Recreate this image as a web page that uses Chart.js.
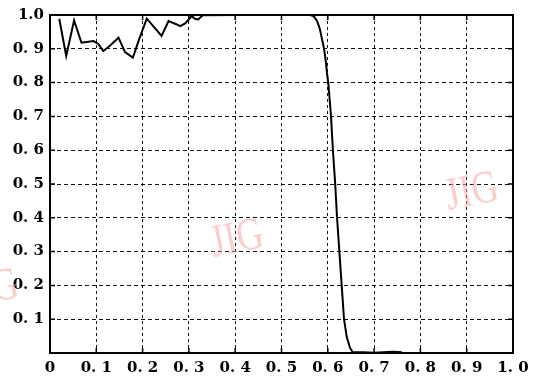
<!DOCTYPE html>
<html>
<head>
<meta charset="utf-8">
<script src="https://cdn.jsdelivr.net/npm/chart.js@4.4.1/dist/chart.umd.min.js"></script>
<style>
  html, body { margin: 0; padding: 0; background: #fff; }
  #wrap { width: 539px; height: 385px; }
</style>
</head>
<body>
<div id="wrap"><canvas id="myChart" width="539" height="385"></canvas></div>
<script>
// curve samples
const xValues = [
  0.020, 0.035, 0.052, 0.068, 0.094, 0.104, 0.115, 0.126, 0.148, 0.162,
  0.179, 0.193, 0.209, 0.241, 0.256, 0.274, 0.281, 0.292, 0.306, 0.313,
  0.320, 0.330, 0.400, 0.500, 0.562, 0.570, 0.577, 0.583, 0.588, 0.592,
  0.596, 0.598, 0.601, 0.604, 0.607, 0.611, 0.616, 0.620, 0.625, 0.630,
  0.635, 0.641, 0.648, 0.654, 0.677, 0.700, 0.740, 0.760
];
const yValues = [
  0.989, 0.879, 0.984, 0.918, 0.923, 0.915, 0.893, 0.905, 0.933, 0.890,
  0.874, 0.930, 0.989, 0.938, 0.982, 0.972, 0.967, 0.975, 0.997, 0.989,
  0.987, 0.999, 1.000, 1.000, 1.000, 0.996, 0.982, 0.958, 0.925, 0.900,
  0.860, 0.830, 0.800, 0.750, 0.700, 0.600, 0.500, 0.400, 0.300, 0.200,
  0.100, 0.047, 0.015, 0.002, 0.002, 0.001, 0.004, 0.002
];

const xTickLabels = ['0', '0. 1', '0. 2', '0. 3', '0. 4', '0. 5', '0. 6', '0. 7', '0. 8', '0. 9', '1. 0'];
const yTickLabels = ['', '0. 1', '0. 2', '0. 3', '0. 4', '0. 5', '0. 6', '0. 7', '0. 8', '0. 9', '1.0'];

const points = xValues.map((x, i) => ({ x: x, y: yValues[i] }));

const tickFont = { family: 'DejaVu Serif', size: 15, weight: 'bold' };

// frame plus short inward ticks on all four sides
const framePlugin = {
  id: 'frame',
  afterDatasetsDraw(chart) {
    const { ctx, chartArea: a, scales } = chart;
    ctx.save();
    ctx.strokeStyle = '#000';
    ctx.lineWidth = 1.5;
    ctx.beginPath();
    scales.x.ticks.forEach(t => {
      const px = scales.x.getPixelForValue(t.value);
      ctx.moveTo(px, a.bottom); ctx.lineTo(px, a.bottom - 5);
      ctx.moveTo(px, a.top); ctx.lineTo(px, a.top + 5);
    });
    scales.y.ticks.forEach(t => {
      const py = scales.y.getPixelForValue(t.value);
      ctx.moveTo(a.left, py); ctx.lineTo(a.left + 5, py);
      ctx.moveTo(a.right, py); ctx.lineTo(a.right - 5, py);
    });
    ctx.stroke();
    ctx.lineWidth = 2;
    ctx.strokeRect(a.left, a.top, a.right - a.left, a.bottom - a.top);
    ctx.restore();
  }
};

// faint journal stamps
const stampPlugin = {
  id: 'stamp',
  beforeDatasetsDraw(chart) {
    const ctx = chart.ctx;
    ctx.save();
    ctx.fillStyle = 'rgba(248, 165, 165, 0.55)';
    ctx.font = '46px "Liberation Serif"';
    ctx.textAlign = 'center';
    ctx.textBaseline = 'middle';
    [[237, 240], [472, 193], [-8, 290]].forEach(([sx, sy]) => {
      ctx.save();
      ctx.translate(sx, sy);
      ctx.rotate(-0.2);
      ctx.scale(0.8, 1);
      ctx.fillText('JIG', 0, 0);
      ctx.restore();
    });
    ctx.restore();
  }
};

new Chart(document.getElementById('myChart').getContext('2d'), {
  type: 'line',
  data: {
    datasets: [{
      data: points,
      borderColor: '#000',
      borderWidth: 2,
      pointRadius: 0,
      tension: 0,
      fill: false
    }]
  },
  options: {
    responsive: false,
    animation: false,
    layout: { padding: { left: 0, top: 15, right: 26, bottom: 0 } },
    plugins: { legend: { display: false }, tooltip: { enabled: false } },
    scales: {
      x: {
        type: 'linear',
        min: 0,
        max: 1,
        afterFit: s => { s.height = 32; },
        border: { display: false, dash: [3, 3] },
        grid: { color: '#111', lineWidth: 1, drawTicks: false },
        ticks: {
          stepSize: 0.1,
          padding: 6,
          color: '#000',
          font: tickFont,
          maxRotation: 0,
          autoSkip: false,
          callback: (v, i) => xTickLabels[i]
        }
      },
      y: {
        min: 0,
        max: 1,
        afterFit: s => { s.width = 50; },
        border: { display: false, dash: [4, 3] },
        grid: { color: '#111', lineWidth: 1, drawTicks: false },
        ticks: {
          stepSize: 0.1,
          padding: 6,
          color: '#000',
          font: tickFont,
          autoSkip: false,
          callback: (v, i) => yTickLabels[i]
        }
      }
    }
  },
  plugins: [stampPlugin, framePlugin]
});
</script>
</body>
</html>
